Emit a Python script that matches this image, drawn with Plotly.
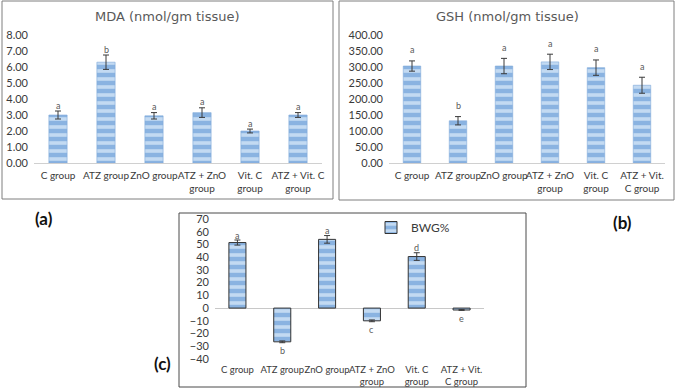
import plotly.graph_objects as go

W, H = 676, 388

cats_ab = ["C group", "ATZ group", "ZnO group", "ATZ + ZnO<br>group", "Vit. C<br>group", "ATZ + Vit. C<br>group"]
cats_b = ["C group", "ATZ group", "ZnO group", "ATZ + ZnO<br>group", "Vit. C<br>group", "ATZ + Vit.<br>C group"]
cats_c = ["C group", "ATZ group", "ZnO group", "ATZ + ZnO<br>group", "Vit. C<br>group", "ATZ + Vit.<br>C group"]

mda = [3.00, 6.30, 2.95, 3.15, 2.00, 3.00]
mda_err = [0.25, 0.45, 0.20, 0.30, 0.12, 0.15]
mda_letters = ["a", "b", "a", "a", "a", "a"]

gsh = [303, 132, 303, 316, 298, 243]
gsh_err = [16, 13, 24, 24, 24, 25]
gsh_letters = ["a", "b", "a", "a", "a", "a"]

bwg = [51.5, -26.5, 54.0, -10.0, 40.5, -1.5]
bwg_err = [2.0, 0.7, 3.0, 0.7, 3.0, 0.3]
bwg_letters = ["a", "b", "a", "c", "d", "e"]

FONT = "Lato"
BAR = "#8AB3E1"
STRIPE = "#C3DAF2"
TXT = "#3A3A3A"

def px_x(p):
    return p / W

def px_y(p):
    return 1 - p / H

fig = go.Figure()

def bar_trace(cats, vals, errs, xa, ya, outline, outline_w, name, showlegend):
    return go.Bar(
        x=cats, y=vals, xaxis=xa, yaxis=ya, name=name, showlegend=showlegend,
        width=0.38,
        marker=dict(color=BAR, line=dict(color=outline, width=outline_w),
                    pattern=dict(shape="-", size=8, solidity=0.45,
                                 fgcolor=STRIPE, fgopacity=1, fillmode="overlay")),
        error_y=dict(type="data", array=errs, visible=True, color=TXT,
                     thickness=1, width=3),
    )

fig.add_trace(bar_trace(cats_ab, mda, mda_err, "x", "y", "#7FA9DA", 0.6, "MDA", False))
fig.add_trace(bar_trace(cats_b, gsh, gsh_err, "x2", "y2", "#7FA9DA", 0.6, "GSH", False))
fig.add_trace(bar_trace(cats_c, bwg, bwg_err, "x3", "y3", "#333333", 1, "BWG%", True))

annotations = []

def add_letters(cats, vals, errs, letters, xr, yr, up_shift, down_shift):
    for c, v, e, l in zip(cats, vals, errs, letters):
        top = v >= 0
        annotations.append(dict(x=c, y=(v + e) if top else (v - e), xref=xr, yref=yr,
                                text=l, showarrow=False, xanchor="center", yanchor="middle",
                                yshift=up_shift if top else down_shift,
                                font=dict(family=FONT, size=9, color="#595959")))

add_letters(cats_ab, mda, mda_err, mda_letters, "x", "y", 6, -6)
add_letters(cats_b, gsh, gsh_err, gsh_letters, "x2", "y2", 11, -11)
add_letters(cats_c, bwg, bwg_err, bwg_letters, "x3", "y3", 5, -8)

# titles
for t, x in [("MDA (nmol/gm tissue)", 167), ("GSH (nmol/gm tissue)", 507)]:
    annotations.append(dict(x=px_x(x), y=px_y(17), xref="paper", yref="paper",
                            text=t, showarrow=False, xanchor="center", yanchor="middle",
                            font=dict(family="DejaVu Sans", size=13, color="#595959")))
# panel labels
for t, x, y in [("(a)", 44, 218), ("(b)", 622, 222), ("(c)", 162, 363)]:
    annotations.append(dict(x=px_x(x), y=px_y(y), xref="paper", yref="paper",
                            text="<b>" + t + "</b>", showarrow=False,
                            xanchor="center", yanchor="middle",
                            font=dict(family=FONT, size=17, color="#111111")))

shapes = []
for x0, y0, x1, y1, col in [(2, 1, 333, 199, "#7F7F7F"), (339, 1, 674, 200, "#7F7F7F"),
                            (179, 213, 526, 387, "#4A4A4A")]:
    shapes.append(dict(type="rect", xref="paper", yref="paper",
                       x0=px_x(x0), x1=px_x(x1), y0=px_y(y1), y1=px_y(y0),
                       line=dict(color=col, width=1), fillcolor="rgba(0,0,0,0)"))

def xaxis(dom, anchor, showline, fsize):
    return dict(domain=dom, anchor=anchor, showgrid=False, ticks="", automargin=False,
                showline=showline, linecolor="#D0D0D0", linewidth=1, zeroline=False,
                tickfont=dict(family=FONT, size=fsize, color=TXT), tickangle=0,
                ticklabelstandoff=3, fixedrange=True)

def yaxis(dom, anchor, rng, dtick, fmt, zero):
    return dict(domain=dom, anchor=anchor, range=rng, dtick=dtick, tickformat=fmt,
                showgrid=False, ticks="", showline=False, zeroline=zero, automargin=False,
                zerolinecolor="#C8C8C8", zerolinewidth=1,
                tickfont=dict(family=FONT, size=11, color=TXT),
                ticklabelstandoff=5, fixedrange=True)

fig.update_layout(
    template="none",
    width=W, height=H, margin=dict(l=0, r=0, t=0, b=0, autoexpand=False),
    paper_bgcolor="white", plot_bgcolor="white",
    font=dict(family=FONT, color=TXT),
    xaxis=xaxis([px_x(34), px_x(322)], "y", True, 10),
    yaxis=yaxis([px_y(163), px_y(35)], "x", [0, 8], 1, ".2f", False),
    xaxis2=xaxis([px_x(389), px_x(665)], "y2", True, 10),
    yaxis2=yaxis([px_y(163), px_y(35)], "x2", [0, 400], 50, ".2f", False),
    xaxis3=xaxis([px_x(215), px_x(484)], "y3", False, 9.5),
    yaxis3=yaxis([px_y(359), px_y(219)], "x3", [-40, 70], 10, "d", True),
    legend=dict(x=px_x(371), y=px_y(213), xanchor="left", yanchor="top",
                bgcolor="rgba(0,0,0,0)", font=dict(family=FONT, size=12, color=TXT),
                itemwidth=30, tracegroupgap=0),
    annotations=annotations, shapes=shapes, showlegend=True,
    bargap=0.6,
)

fig.write_html("out.html", config={"displayModeBar": False},
               post_script="document.body.style.margin='0px';document.body.style.overflow='hidden';")
